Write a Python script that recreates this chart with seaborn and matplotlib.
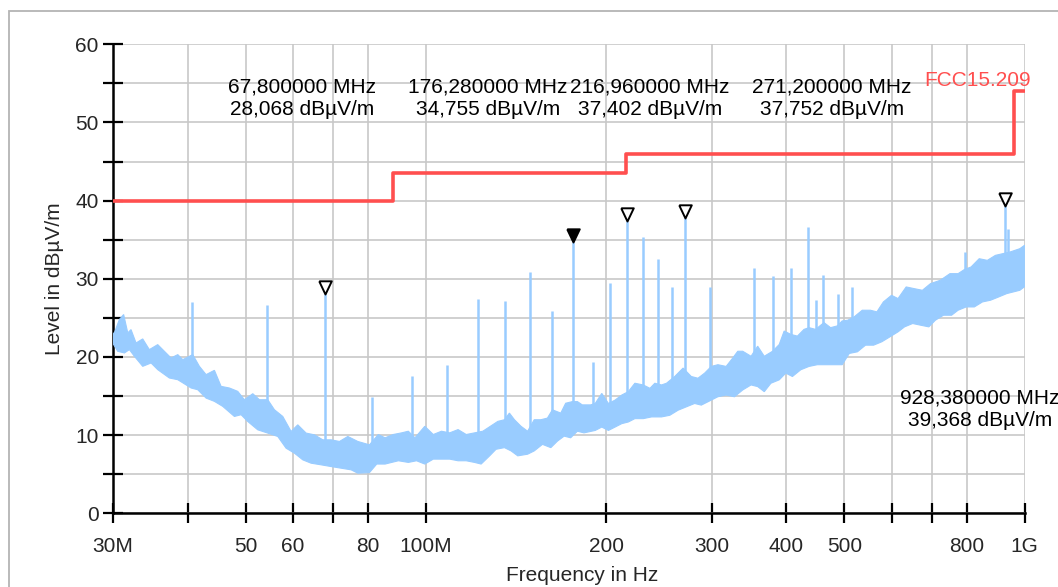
import numpy as np
import matplotlib
matplotlib.use("Agg")
import matplotlib.pyplot as plt
import seaborn as sns
from matplotlib.patches import Rectangle
from matplotlib.ticker import NullLocator

upper_freq = [30.0, 30.19, 30.78, 31.29, 31.79, 32.19, 32.82, 33.67, 34.54, 35.67,
              36.59, 37.55, 38.53, 39.28, 40.81, 41.87, 42.96, 44.36, 45.51, 46.99,
              48.52, 49.78, 51.41, 52.74, 54.46, 55.87, 57.69, 59.57, 61.12, 63.11,
              65.17, 67.29, 69.48, 71.75, 74.08, 76.99, 80.52, 83.3, 85.5, 88.2,
              91.1, 93.5, 95.9, 99.6, 102.9, 106.2, 109.6, 113.2, 116.8, 120.6,
              124.5, 129.4, 131.9, 135.3, 137.9, 140.6, 144.2, 147.9, 151.7, 155.6,
              159.6, 162.7, 168.0, 171.2, 175.7, 179.1, 182.5, 188.4, 191.8, 196.7,
              201.8, 207.0, 212.4, 217.8, 223.4, 230.7, 236.7, 241.2, 247.5, 252.3,
              260.4, 268.9, 277.5, 284.7, 292.1, 299.7, 307.4, 317.3, 325.5, 331.8,
              338.2, 349.2, 358.2, 367.4, 379.3, 389.1, 396.6, 406.8, 417.3, 428.1,
              436.4, 447.6, 462.2, 474.1, 486.3, 495.7, 506.3, 519.1, 535.5, 552.5,
              566.5, 580.8, 599.3, 614.4, 634.0, 654.1, 674.8, 696.1, 722.7, 750.3,
              774.1, 793.6, 813.6, 839.5, 866.2, 893.6, 945.3, 963.2, 981.4, 1000.0]
upper_level = [23.0, 23.08, 24.79, 25.43, 23.08, 23.5, 21.79, 22.31, 20.94, 21.58,
               20.73, 19.87, 20.3, 19.66, 20.3, 18.8, 17.74, 18.29, 16.24, 16.03,
               15.6, 14.53, 15.3, 14.53, 14.53, 13.25, 12.39, 10.47, 11.32, 10.26,
               10.04, 9.4, 9.4, 9.19, 9.83, 9.19, 8.76, 10.08, 9.66, 10.08,
               10.29, 10.5, 9.66, 11.13, 10.08, 10.5, 10.29, 10.71, 10.08, 10.29,
               10.5, 11.34, 11.76, 11.97, 12.82, 11.97, 11.13, 10.5, 11.97, 11.97,
               12.18, 13.24, 12.82, 14.08, 14.29, 14.29, 13.87, 13.87, 14.05, 15.34,
               14.05, 14.48, 15.13, 15.56, 16.64, 16.42, 15.99, 16.64, 16.42, 16.64,
               17.5, 18.58, 17.5, 17.28, 17.93, 18.79, 19.01, 18.79, 19.87, 20.73,
               20.73, 20.09, 21.38, 20.09, 20.73, 21.59, 23.32, 22.89, 22.67, 23.53,
               23.75, 23.53, 24.4, 23.75, 23.97, 24.61, 24.7, 25.13, 25.98, 25.98,
               25.77, 27.04, 27.89, 27.47, 28.96, 28.74, 28.53, 29.38, 29.81, 30.66,
               30.66, 31.2, 31.51, 32.57, 32.36, 33.0, 33.43, 33.64, 33.85, 34.3]

# lower edge of the noise band
lower_freq = [30.0, 30.58, 31.38, 31.99, 32.61, 33.67, 34.77, 35.67, 37.3, 38.53,
              40.55, 41.6, 42.96, 44.36, 45.8, 47.9, 49.15, 50.42, 52.4, 54.46,
              56.59, 58.43, 60.34, 62.3, 64.33, 66.86, 69.48, 72.21, 75.04, 76.99,
              80.52, 82.8, 85.5, 87.7, 90.0, 93.5, 96.5, 99.6, 102.9, 106.2,
              109.6, 113.2, 116.8, 120.6, 123.7, 127.8, 131.0, 135.3, 138.8, 142.4,
              147.9, 151.7, 156.6, 161.7, 165.9, 170.2, 174.5, 179.1, 183.7, 191.8,
              196.7, 201.8, 207.0, 212.4, 217.8, 223.4, 230.7, 238.2, 247.5, 255.5,
              263.8, 272.3, 281.1, 288.4, 299.7, 307.4, 317.3, 327.6, 338.2, 349.2,
              358.2, 367.4, 376.9, 389.1, 399.1, 409.4, 422.7, 436.4, 450.5, 468.1,
              483.2, 495.7, 509.5, 525.6, 542.3, 559.4, 577.2, 595.5, 614.4, 630.0,
              650.0, 670.6, 691.8, 709.3, 731.8, 755.0, 774.1, 798.6, 823.9, 850.1,
              877.1, 904.9, 933.6, 957.2, 981.4, 1000.0]
lower_level = [21.79, 20.73, 20.51, 20.94, 20.09, 18.8, 19.23, 18.38, 17.31, 17.09,
               16.03, 15.81, 14.74, 14.32, 13.68, 12.39, 12.61, 11.75, 10.68, 10.26,
               9.83, 8.33, 7.69, 6.84, 6.41, 6.2, 5.98, 5.77, 5.56, 5.13,
               5.21, 6.3, 6.3, 6.51, 6.72, 6.51, 6.72, 6.3, 6.93, 6.93,
               6.93, 6.72, 6.72, 6.51, 6.3, 7.35, 8.19, 8.4, 7.98, 7.35,
               7.56, 7.98, 8.82, 8.4, 9.24, 9.87, 9.66, 10.5, 10.29, 10.6,
               11.03, 10.6, 11.03, 11.47, 11.68, 12.11, 12.11, 12.33, 12.33, 12.54,
               13.19, 13.62, 14.05, 13.84, 14.48, 14.91, 15.13, 14.91, 15.78, 16.42,
               16.21, 15.56, 16.64, 17.07, 17.93, 17.5, 18.36, 18.79, 19.01, 19.01,
               19.01, 19.01, 20.45, 20.66, 21.51, 21.51, 21.94, 22.57, 23.21, 23.85,
               24.28, 24.06, 23.85, 24.7, 25.34, 25.34, 25.98, 26.4, 26.4, 27.04,
               27.26, 27.68, 28.11, 28.32, 28.53, 29.0]

# narrow emission lines (mostly 13.56 MHz harmonics)
spike_freq = [40.68, 54.24, 67.8, 81.36, 94.92, 108.48, 122.04, 135.6, 149.16, 162.72,
              176.28, 189.84, 203.4, 216.96, 230.52, 244.08, 257.64, 271.2, 284.76, 298.32,
              325.44, 339.0, 352.56, 379.68, 406.8, 433.92, 447.48, 461.04, 488.16, 515.28,
              794.0, 928.38, 937.0]
spike_level = [27.0, 26.6, 28.07, 14.9, 17.6, 19.0, 27.4, 27.1, 30.9, 25.9,
               34.76, 19.3, 29.5, 37.4, 35.3, 32.5, 29.0, 37.75, 16.4, 29.0,
               17.9, 17.4, 31.4, 30.3, 31.4, 36.6, 27.3, 30.5, 28.0, 29.0,
               33.4, 39.37, 36.4]

# FCC 15.209 limit
limit_freq = [30, 88, 216, 960, 1000]
limit_level = [40, 43.5, 46, 54, 54]

# marker readouts
marker_freq = [67.8, 176.28, 216.96, 271.2, 928.38]
marker_level = [28.068, 34.755, 37.402, 37.752, 39.368]
marker_filled = [False, True, False, False, False]
label_pos = [(62.2, 53.1), (127.0, 53.1), (236.9, 53.1), (477.0, 53.1), (842.0, 13.3)]

xtick_vals = [30, 40, 50, 60, 70, 80, 100, 200, 300, 400, 500, 600, 700, 800, 1000]
xtick_labels = ["30M", "", "50", "60", "", "80", "100M", "200", "300", "400", "500", "", "", "800", "1G"]

trace_col = "#99ccff"
limit_col = "#ff4f4f"

sns.set_theme(style="white")
plt.rcParams["font.family"] = ["Liberation Sans", "DejaVu Sans"]

fig = plt.figure(figsize=(10.58, 5.87), dpi=100)
ax = fig.add_axes([112.7 / 1058, 1 - 513.3 / 587, 912 / 1058, 469 / 587])
ax.set_xscale("log")

# trace: noise band as one polygon, then the discrete lines
ax.fill(upper_freq + lower_freq[::-1], upper_level + lower_level[::-1],
        color=trace_col, lw=0.8, zorder=3)
base = np.interp(np.log10(spike_freq), np.log10(lower_freq), lower_level) + 1.0
ax.vlines(spike_freq, base, spike_level, color=trace_col, lw=1.8, zorder=3)

sns.lineplot(x=limit_freq, y=limit_level, drawstyle="steps-post", color=limit_col,
             lw=2.6, ax=ax, zorder=4)
ax.text(1025, 55.4, "FCC15.209", ha="right", va="center", color=limit_col,
        fontsize=15, clip_on=False)

# down triangles with the tip on the peak
tri = [(-0.5, 1.05), (0.5, 1.05), (0, 0), (-0.5, 1.05)]
for f, lv, filled in zip(marker_freq, marker_level, marker_filled):
    ax.plot([f], [lv], ls="none", marker=tri, ms=19, mew=1.4, mec="black",
            mfc="black" if filled else "white", zorder=5)

for f, lv, (tx, ty) in zip(marker_freq, marker_level, label_pos):
    txt = f"{f:.6f} MHz".replace(".", ",") + "\n" + f"{lv:.3f} dBµV/m".replace(".", ",")
    ax.text(tx, ty, txt, ha="center", va="center", fontsize=15, linespacing=1.2,
            color="black", clip_on=False, zorder=6)

ax.set_xlim(30, 1000)
ax.set_ylim(0, 60)
ax.set_xticks(xtick_vals)
ax.set_xticklabels(xtick_labels)
ax.xaxis.set_minor_locator(NullLocator())
ax.set_yticks(range(0, 61, 10))
ax.set_yticks(range(5, 60, 10), minor=True)

ax.grid(True, which="both", color="#c8c8c8", lw=1.2, zorder=0)
ax.set_axisbelow(True)
ax.tick_params(axis="both", which="both", direction="inout", length=14, width=1.6,
               color="black", bottom=True, left=True, labelsize=15)
ax.tick_params(axis="x", pad=10)
ax.tick_params(axis="y", pad=3)

for side in ["top", "right"]:
    ax.spines[side].set_visible(False)
for side in ["left", "bottom"]:
    ax.spines[side].set_color("black")
    ax.spines[side].set_linewidth(1.8)

ax.set_ylabel("Level in dBµV/m", fontsize=15, labelpad=8)
ax.set_xlabel("Frequency in Hz", fontsize=15)
ax.xaxis.set_label_coords((582 - 112.7) / 912, -0.112)

fig.add_artist(Rectangle((9 / 1058, -0.1), 1.2, 1 - 11 / 587 + 0.1, transform=fig.transFigure,
                         fill=False, ec="#b4b4b4", lw=1.3))

fig.savefig("out.png", dpi=100)
